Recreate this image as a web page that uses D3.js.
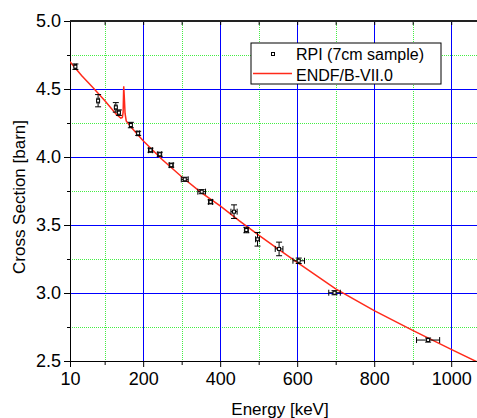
<!DOCTYPE html>
<meta charset="utf-8">
<style>
    body { margin: 0; background: #fff; }
    text { font-family: Arial, "Liberation Sans", sans-serif; fill: #000; }
</style>
<body>
<script src="https://d3js.org/d3.v7.min.js"></script>
<script>
    // RPI measurement (7cm sample)
    var rpiEnergy = [24, 83, 129, 137, 168, 187, 219, 243, 273, 308, 352, 375, 436, 468, 497, 553, 604, 697, 940]
    var rpiSigma = [4.664, 4.414, 4.365, 4.326, 4.235, 4.174, 4.05, 4.02, 3.94, 3.836, 3.745, 3.67, 3.598, 3.463, 3.395, 3.324, 3.237, 3.002, 2.654]
    var rpiSigmaErr = [0.02, 0.045, 0.035, 0.02, 0.02, 0.015, 0.015, 0.015, 0.015, 0.015, 0.015, 0.015, 0.05, 0.02, 0.05, 0.05, 0.02, 0.015, 0.015]
    var rpiEnergyErr = [3, 3, 3, 3, 3, 3, 5, 5, 5, 9, 10, 5, 8, 5, 5, 10, 15, 15, 30]

    // ENDF/B-VII.0 evaluation
    var endfEnergy = [10, 40, 70, 100, 130, 142, 146, 148, 149.5, 151, 153, 156, 170, 200, 250, 300, 350, 400, 450, 500, 550, 600, 700, 800, 900, 1000, 1070]
    var endfSigma = [4.70, 4.60, 4.51, 4.415, 4.315, 4.285, 4.29, 4.33, 4.52, 4.44, 4.32, 4.265, 4.215, 4.12, 3.98, 3.855, 3.74, 3.64, 3.53, 3.425, 3.325, 3.225, 3.03, 2.87, 2.725, 2.585, 2.49]

    var xMajor = [10, 200, 400, 600, 800, 1000]
    var xMinor = [100, 300, 500, 700, 900]
    var yMajor = [2.5, 3.0, 3.5, 4.0, 4.5, 5.0]
    var yMinor = [2.75, 3.25, 3.75, 4.25, 4.75]

    var width = 477
    var height = 418
    var pLeft = 70, pRight = 477, pTop = 21, pBottom = 361

    var x = d3.scaleLinear().domain([10, 1067]).range([pLeft, pRight])
    var y = d3.scaleLinear().domain([2.5, 5.0]).range([pBottom, pTop])

    var svg = d3.select('body').append('svg')
        .attr('width', width)
        .attr('height', height)

    svg.append('defs').append('clipPath').attr('id', 'clip')
        .append('rect').attr('x', pLeft).attr('y', pTop)
        .attr('width', pRight - pLeft).attr('height', pBottom - pTop)

    // grid, drawn as thin filled rects so each line lands on whole pixels
    var grid = svg.append('g').attr('shape-rendering', 'crispEdges')
    grid.selectAll('rect.vminor').data(xMinor).enter().append('line')
        .attr('class', 'vminor')
        .attr('x1', function (d) { return Math.round(x(d)) + 0.5 })
        .attr('x2', function (d) { return Math.round(x(d)) + 0.5 })
        .attr('y1', pTop).attr('y2', pBottom)
        .attr('stroke', '#44ee44').attr('stroke-dasharray', '1,1')
    grid.selectAll('rect.hminor').data(yMinor).enter().append('line')
        .attr('class', 'hminor')
        .attr('x1', pLeft).attr('x2', pRight)
        .attr('y1', function (d) { return Math.round(y(d)) + 0.5 })
        .attr('y2', function (d) { return Math.round(y(d)) + 0.5 })
        .attr('stroke', '#44ee44').attr('stroke-dasharray', '1,1')
    grid.selectAll('rect.vmajor').data(xMajor.slice(1)).enter().append('rect')
        .attr('class', 'vmajor')
        .attr('x', function (d) { return Math.round(x(d)) })
        .attr('y', pTop).attr('width', 1).attr('height', pBottom - pTop)
        .attr('fill', '#0000ff')
    grid.selectAll('rect.hmajor').data(yMajor.slice(1, -1)).enter().append('rect')
        .attr('class', 'hmajor')
        .attr('x', pLeft).attr('width', pRight - pLeft)
        .attr('y', function (d) { return Math.round(y(d)) }).attr('height', 1)
        .attr('fill', '#0000ff')

    // axes
    svg.append('g')
        .attr('transform', 'translate(0,' + pBottom + ')')
        .call(d3.axisBottom(x).tickValues(xMajor).tickSize(6).tickSizeOuter(0).tickPadding(5).tickFormat(d3.format('d')))
    svg.append('g')
        .attr('transform', 'translate(0,' + pBottom + ')')
        .call(d3.axisBottom(x).tickValues(xMinor).tickSize(4).tickSizeOuter(0).tickFormat(''))
    svg.append('g')
        .attr('transform', 'translate(0,' + pTop + ')')
        .call(d3.axisBottom(x).tickValues(xMajor.concat(xMinor)).tickSize(4).tickSizeOuter(0).tickFormat(''))
        .select('.domain').remove()
    svg.append('g')
        .attr('transform', 'translate(' + pLeft + ',0)')
        .call(d3.axisLeft(y).tickValues(yMajor).tickSize(6).tickSizeOuter(0).tickPadding(3).tickFormat(d3.format('.1f')))
    svg.append('g')
        .attr('transform', 'translate(' + pLeft + ',0)')
        .call(d3.axisLeft(y).tickValues(yMinor).tickSize(3).tickSizeOuter(0).tickFormat(''))

    svg.selectAll('.tick text').style('font-size', '18px').style('font-family', 'Arial, "Liberation Sans", sans-serif')
    svg.selectAll('.domain, .tick line').attr('stroke', '#000')

    svg.append('line')
        .attr('x1', pLeft).attr('x2', pRight).attr('y1', pTop).attr('y2', pTop)
        .attr('stroke', '#222').attr('stroke-width', 2)

    // ENDF curve
    var line = d3.line()
        .x(function (d, i) { return x(endfEnergy[i]) })
        .y(function (d) { return y(d) })
    svg.append('path')
        .datum(endfSigma)
        .attr('clip-path', 'url(#clip)')
        .attr('d', line)
        .attr('fill', 'none')
        .attr('stroke', '#ff2a1a')
        .attr('stroke-width', 1.5)

    // RPI points with error bars
    var pts = svg.append('g').selectAll('g').data(rpiEnergy).enter().append('g')
    pts.append('line')
        .attr('x1', function (d) { return x(d) }).attr('x2', function (d) { return x(d) })
        .attr('y1', function (d, i) { return y(rpiSigma[i] - rpiSigmaErr[i]) })
        .attr('y2', function (d, i) { return y(rpiSigma[i] + rpiSigmaErr[i]) })
        .attr('stroke', '#000')
    pts.append('line')
        .attr('x1', function (d, i) { return x(d - rpiEnergyErr[i]) })
        .attr('x2', function (d, i) { return x(d + rpiEnergyErr[i]) })
        .attr('y1', function (d, i) { return y(rpiSigma[i]) })
        .attr('y2', function (d, i) { return y(rpiSigma[i]) })
        .attr('stroke', '#000')
    ;[-1, 1].forEach(function (s) {
        pts.append('line')
            .attr('x1', function (d) { return x(d) - 3 }).attr('x2', function (d) { return x(d) + 3 })
            .attr('y1', function (d, i) { return y(rpiSigma[i] + s * rpiSigmaErr[i]) })
            .attr('y2', function (d, i) { return y(rpiSigma[i] + s * rpiSigmaErr[i]) })
            .attr('stroke', '#000')
        pts.append('line')
            .attr('x1', function (d, i) { return x(d + s * rpiEnergyErr[i]) })
            .attr('x2', function (d, i) { return x(d + s * rpiEnergyErr[i]) })
            .attr('y1', function (d, i) { return y(rpiSigma[i]) - 3 })
            .attr('y2', function (d, i) { return y(rpiSigma[i]) + 3 })
            .attr('stroke', '#000')
    })
    pts.append('rect')
        .attr('x', function (d) { return x(d) - 1.5 })
        .attr('y', function (d, i) { return y(rpiSigma[i]) - 1.5 })
        .attr('width', 3).attr('height', 3)
        .attr('fill', '#fff').attr('stroke', '#000')

    // legend
    var lg = svg.append('g')
    lg.append('rect').attr('x', 251).attr('y', 43).attr('width', 190).attr('height', 41)
        .attr('fill', '#fff').attr('stroke', '#000')
    lg.append('rect').attr('x', 271.5).attr('y', 52.5).attr('width', 3).attr('height', 3)
        .attr('fill', '#fff').attr('stroke', '#000')
    lg.append('text').attr('x', 296).attr('y', 60).style('font-size', '16px').text('RPI (7cm sample)')
    lg.append('line').attr('x1', 253).attr('x2', 292).attr('y1', 73.5).attr('y2', 73.5)
        .attr('stroke', '#ff2a1a').attr('stroke-width', 1.5)
    lg.append('text').attr('x', 296).attr('y', 80.5).style('font-size', '16px').text('ENDF/B-VII.0')

    // axis titles
    svg.append('text').attr('x', 280).attr('y', 415).attr('text-anchor', 'middle')
        .style('font-size', '17px').text('Energy [keV]')
    svg.append('text').attr('transform', 'translate(25,197) rotate(-90)').attr('text-anchor', 'middle')
        .style('font-size', '17px').text('Cross Section [barn]')
</script>
</body>
